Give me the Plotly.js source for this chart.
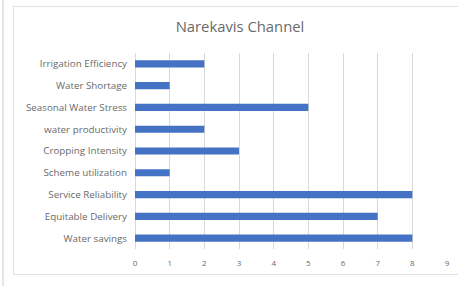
<!DOCTYPE html>
<html>
<head>
<meta charset="utf-8">
<script src="https://cdn.plot.ly/plotly-3.0.1.min.js"></script>
<style>
html,body{margin:0;padding:0;background:#fff;}
#wrap{position:relative;width:458px;height:286px;overflow:hidden;}
#lline{position:absolute;left:2px;top:0;width:2px;height:286px;background:#e6e6e6;}
#frame{position:absolute;left:13px;top:6px;width:460px;height:269px;border:1px solid #e2e2e2;box-sizing:border-box;}
#chart{position:absolute;left:0;top:0;width:458px;height:286px;}
</style>
</head>
<body>
<div id="wrap">
<div id="lline"></div>
<div id="frame"></div>
<div id="chart"></div>
</div>
<script>
const categories = ["Irrigation Efficiency","Water Shortage","Seasonal Water Stress","water productivity","Cropping Intensity","Scheme utilization","Service Reliability","Equitable Delivery","Water savings"];
const values = [2,1,5,2,3,1,8,7,8];
const xTicks = [0,1,2,3,4,5,6,7,8,9];

Plotly.newPlot('chart', [{
  type:'bar', orientation:'h',
  x: values, y: categories,
  marker:{color:'#4472C4'},
  width:0.33,
  hoverinfo:'none'
}], {
  width:458, height:286,
  paper_bgcolor:'rgba(0,0,0,0)', plot_bgcolor:'rgba(0,0,0,0)',
  margin:{l:135,r:11,t:53,b:37},
  title:{text:'Narekavis Channel', x:0.524, xanchor:'center', y:0.905, yanchor:'middle', font:{family:'Open Sans, sans-serif', size:14.8, color:'#6a6a6a'}},
  xaxis:{range:[0,9], tickvals:xTicks, ticktext:xTicks.map(String), showgrid:true, gridcolor:'#d9d9d9', gridwidth:1, zeroline:true, zerolinecolor:'#d9d9d9', showline:false, tickfont:{family:'Open Sans, sans-serif', size:8, color:'#6a6a6a'}, ticklabelstandoff:8, fixedrange:true},
  yaxis:{type:'category', autorange:'reversed', showgrid:false, showline:false, tickfont:{family:'Open Sans, sans-serif', size:9.8, color:'#6a6a6a'}, ticklabelstandoff:7, fixedrange:true},
  showlegend:false
}, {displayModeBar:false, staticPlot:true});
</script>
</body>
</html>
